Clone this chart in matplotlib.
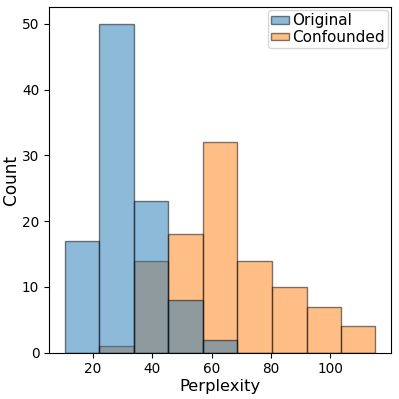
import numpy as np
import matplotlib
matplotlib.use("Agg")
import matplotlib.pyplot as plt
from matplotlib.patches import Patch

# bin edges (shared) and counts
edges = [10.45, 22.1, 33.7, 45.4, 57.0, 68.7, 80.3, 92.0, 103.6, 115.2]
original = [17, 50, 23, 8, 2, 0, 0, 0, 0]
confounded = [0, 1, 14, 18, 32, 14, 10, 7, 4]

fig = plt.figure(figsize=(3.99, 3.99), dpi=100)
ax = fig.add_axes([49 / 399, 1 - 352.7 / 399, (391 - 49) / 399, (352.7 - 7.3) / 399])

left = np.array(edges[:-1])
width = np.diff(edges)

# orange first, blue drawn on top (overlap looks grey)
ax.bar(left, confounded, width=width, align='edge', color='tab:orange',
       alpha=0.5, edgecolor='black', linewidth=1)
ax.bar(left, original, width=width, align='edge', color='tab:blue',
       alpha=0.5, edgecolor='black', linewidth=1)

ax.set_xlabel('Perplexity', fontsize=11.8, labelpad=2)
ax.set_ylabel('Count', fontsize=12.2, labelpad=1.5)
ax.tick_params(labelsize=9.8)
ax.set_xticks([20, 40, 60, 80, 100])
ax.set_yticks([0, 10, 20, 30, 40, 50])
ax.set_ylim(0, 52.5)

handles = [Patch(facecolor='tab:blue', alpha=0.5, edgecolor='black', label='Original'),
           Patch(facecolor='tab:orange', alpha=0.5, edgecolor='black', label='Confounded')]
ax.legend(handles=handles, fontsize=11, loc='upper right', handlelength=1.2,
          handleheight=0.35, handletextpad=0.2, borderaxespad=0.2, borderpad=0.2,
          labelspacing=0.1)

plt.savefig('out.png', dpi=100)
